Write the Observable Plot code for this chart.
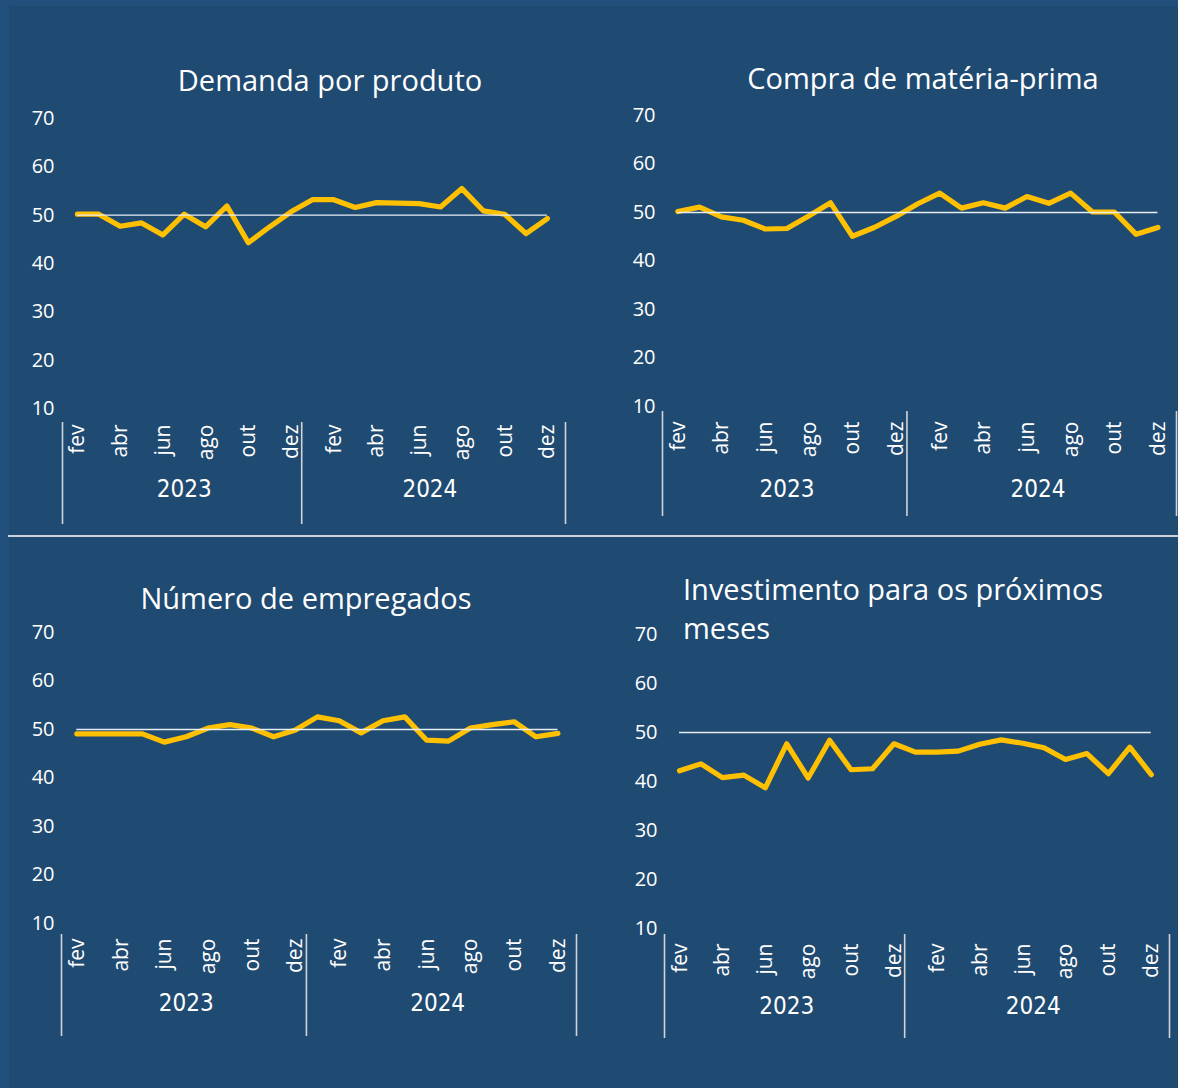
<!DOCTYPE html>
<html><head><meta charset="utf-8">
<script src="https://cdn.jsdelivr.net/npm/d3@7"></script>
<script src="https://cdn.jsdelivr.net/npm/@observablehq/plot@0.6"></script>
<style>
html,body{margin:0;padding:0;background:#21507C;}
#root{position:relative;width:1178px;height:1088px;background:#21507C;overflow:hidden;font-family:"Open Sans",sans-serif;}
#inner{position:absolute;left:9px;top:6px;right:0;bottom:0;background:#1F4A72;}
#sep{position:absolute;left:8px;right:0;top:535px;height:2px;background:#C9D1DA;}
.title{position:absolute;color:#fff;font-size:29px;white-space:nowrap;line-height:39px;}
.panel{position:absolute;}
</style></head>
<body>
<div id="root"><div id="inner"></div><div id="sep"></div></div>
<script>
// ---- data ----
const months = ["fev","mar","abr","mai","jun","jul","ago","set","out","nov","dez",
                "jan","fev","mar","abr","mai","jun","jul","ago","set","out","nov","dez"];
const years = [2023,2023,2023,2023,2023,2023,2023,2023,2023,2023,2023,
               2024,2024,2024,2024,2024,2024,2024,2024,2024,2024,2024,2024];
const demanda = [50.2,50.2,47.7,48.4,45.9,50.2,47.6,51.9,44.3,47.6,50.7,53.2,53.2,51.6,52.6,52.5,52.4,51.7,55.5,50.9,50.2,46.2,49.3];
const compra = [50.2,51.1,49.1,48.4,46.6,46.7,49.3,52.0,45.1,46.9,49.2,51.8,54.0,50.9,52.0,50.9,53.3,51.9,54.0,50.1,50.1,45.5,46.9];
const empregados = [49.1,49.1,49.1,49.1,47.4,48.5,50.3,51.0,50.3,48.5,49.9,52.6,51.8,49.3,51.8,52.6,47.8,47.6,50.3,51.0,51.6,48.5,49.2];
const investimento = [42.2,43.6,40.8,41.3,38.7,47.7,40.7,48.4,42.4,42.6,47.7,46.0,46.0,46.2,47.6,48.5,47.8,46.9,44.5,45.7,41.6,47.0,41.4];
const titles = ["Demanda por produto","Compra de matéria-prima","Número de empregados","Investimento para os próximos meses"];
const yTicks = [10,20,30,40,50,60,70];
const neutral = 50;

// ---- layout ----
const xDomain = [-0.7, 22.85];
const panels = [
  {series: demanda, title: titles[0], left: 0, top: 100, width: 589, height: 440, mL: 62, mR: 24, mT: 18, mB: 132, pad: 8, sepTop: 304, sepBot: -116, mDy: 16, yDy: 88, tx: 330, ty: 79, tAlign: "center"},
  {series: compra, title: titles[1], left: 589, top: 95, width: 589, height: 440, mL: 73, mR: 2, mT: 20, mB: 129, pad: 7, sepTop: 296, sepBot: -110, mDy: 15, yDy: 90, tx: 923, ty: 77, tAlign: "center"},
  {series: empregados, title: titles[2], left: 0, top: 612, width: 589, height: 440, mL: 61, mR: 13, mT: 20, mB: 129, pad: 7, sepTop: 302, sepBot: -113, mDy: 15, yDy: 87, tx: 306, ty: 597, tAlign: "center"},
  {series: investimento, title: titles[3], left: 589, top: 614, width: 589, height: 440, mL: 75, mR: 9, mT: 20, mB: 126, pad: 7, sepTop: 300, sepBot: -110, mDy: 15, yDy: 85, tx: 683, ty: 569, tAlign: "left", wrap: 470}
];

const root = document.getElementById("root");
const idx = months.map((_, i) => i);
const monthLabels = idx.filter(i => i % 2 === 0).map(i => ({i, m: months[i]}));
const yearGroups = Array.from(d3.group(idx, i => years[i]), ([y, is]) => ({year: String(y), mid: d3.mean(is), first: d3.min(is), last: d3.max(is)}));
const bounds = [xDomain[0], ...yearGroups.slice(1).map((g, k) => (yearGroups[k].last + g.first) / 2), xDomain[1]];

for (const p of panels) {
  const data = p.series.map((v, i) => ({i, v}));
  const chart = Plot.plot({
    width: p.width, height: p.height,
    marginLeft: p.mL, marginRight: p.mR, marginTop: p.mT, marginBottom: p.mB,
    style: {background: "transparent", color: "#fff", fontFamily: "'Open Sans', sans-serif", overflow: "visible"},
    x: {domain: xDomain, axis: null},
    y: {domain: [10, 70], ticks: yTicks},
    marks: [
      Plot.axisY({ticks: yTicks, tickSize: 0, tickPadding: p.pad, fontSize: 20, fill: "#fff", label: null}),
      Plot.line(data, {x: "i", y: "v", stroke: "#FFC000", strokeWidth: 5.2, strokeLinejoin: "round"}),
      Plot.ruleY([neutral], {x1: 0, x2: months.length - 1, stroke: "#E8EDF3", strokeWidth: 1.3}),
      Plot.text(monthLabels, {x: "i", text: "m", frameAnchor: "bottom", rotate: -90, textAnchor: "end", dy: p.mDy, dx: 7, fill: "#fff", fontSize: 21}),
      Plot.text(yearGroups, {x: "mid", text: "year", frameAnchor: "bottom", dy: p.yDy, fill: "#fff", fontSize: 24, fontFamily: "'DejaVu Sans Condensed', 'Open Sans', sans-serif"}),
      Plot.ruleX(bounds, {x: d => d, stroke: "#D0D4D8", strokeWidth: 1.6, insetTop: p.sepTop, insetBottom: p.sepBot})
    ]
  });
  const div = document.createElement("div");
  div.className = "panel";
  div.style.left = p.left + "px";
  div.style.top = p.top + "px";
  div.appendChild(chart);
  root.appendChild(div);

  const t = document.createElement("div");
  t.className = "title";
  t.textContent = p.title;
  if (p.tAlign === "center") {
    t.style.left = p.tx + "px"; t.style.top = p.ty + "px";
    t.style.transform = "translate(-50%,-50%)";
  } else {
    t.style.left = p.tx + "px"; t.style.top = p.ty + "px";
    t.style.whiteSpace = "normal"; t.style.width = p.wrap + "px";
  }
  root.appendChild(t);
}
</script>
</body></html>
